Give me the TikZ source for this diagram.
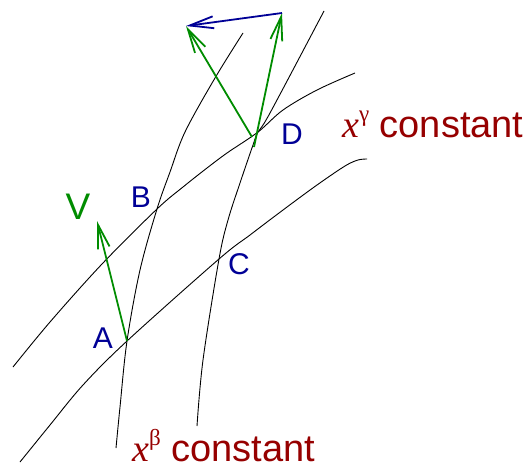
\documentclass[tikz,border=0pt]{standalone}
\usepackage{fontspec}
\setmainfont{Liberation Sans}
\newfontfamily\serffont{Liberation Serif}
\usetikzlibrary{arrows.meta}
\definecolor{lblue}{RGB}{0,0,150}
\definecolor{vgreen}{RGB}{0,140,0}
\definecolor{dred}{RGB}{150,0,0}
\tikzset{
  curve/.style={black, line width=0.9pt},
  vec/.style={vgreen, line width=1.8pt, -{Straight Barb[length=24pt,width=12pt,line width=1.8pt]}},
  bvec/.style={lblue, line width=1.8pt, -{Straight Barb[length=24pt,width=12pt,line width=1.8pt]}},
  ptlabel/.style={text=lblue, font=\fontsize{30}{30}\selectfont, inner sep=0pt},
  clabel/.style={text=dred, font=\fontsize{38}{38}\selectfont, inner sep=0pt, anchor=base west, text depth=0pt},
}
\newcommand{\xsup}[1]{{\serffont\itshape x}\raisebox{0.4em}{\fontsize{23}{23}\selectfont\serffont #1}}
\begin{document}
\begin{tikzpicture}[x=1pt,y=-1pt]
\useasboundingbox (0,0) rectangle (526,466);
\coordinate (A) at (127,341);
\coordinate (B) at (157,209);
\coordinate (C) at (219,259);
\coordinate (D) at (258,132);
\coordinate (Vt) at (97,221);
\coordinate (G1s) at (252,137);
\coordinate (G2s) at (254,147);
\coordinate (T1) at (186,26);
\coordinate (T2) at (282,13);
% x^beta curves
\draw[curve] plot[smooth, tension=0.55] coordinates {(116,448) (120,407) (A) (140,270) (B) (170,172) (185,132) (215,78) (243,33)};
\draw[curve] plot[smooth, tension=0.55] coordinates {(197,426) (203,360) (C) (228,220) (240,183) (253,145) (D) (270,113) (324,11)};
% x^gamma curves
\draw[curve] plot[smooth, tension=0.55] coordinates {(20,462) (50,425) (83,385) (A) (C) (250,235) (283,210) (317,185) (345,166) (358,160) (367,159)};
\draw[curve] plot[smooth, tension=0.55] coordinates {(13,367) (50,322) (102,264) (B) (183,187) (207,168) (227,153) (D) (283,110) (317,90) (355,73)};
% vectors
\draw[vec] (A) -- (Vt);
\draw[vec] (G1s) -- (T1);
\draw[vec] (G2s) -- (T2);
\draw[bvec] (T2) -- (T1);
% labels
\node[ptlabel] (lA) at (103,338) {A};
\node[ptlabel] (lB) at (141,197) {B};
\node[ptlabel] (lC) at (239,264) {C};
\node[ptlabel] (lD) at (292,134) {D};
\node[text=vgreen, font=\fontsize{37}{37}\selectfont, inner sep=0pt] (lV) at (78,207) {V};
\node[clabel] (lg) at (342,137) {\xsup{γ} constant};
\node[clabel] (lb) at (132,461) {\xsup{β} constant};
\end{tikzpicture}
\end{document}
